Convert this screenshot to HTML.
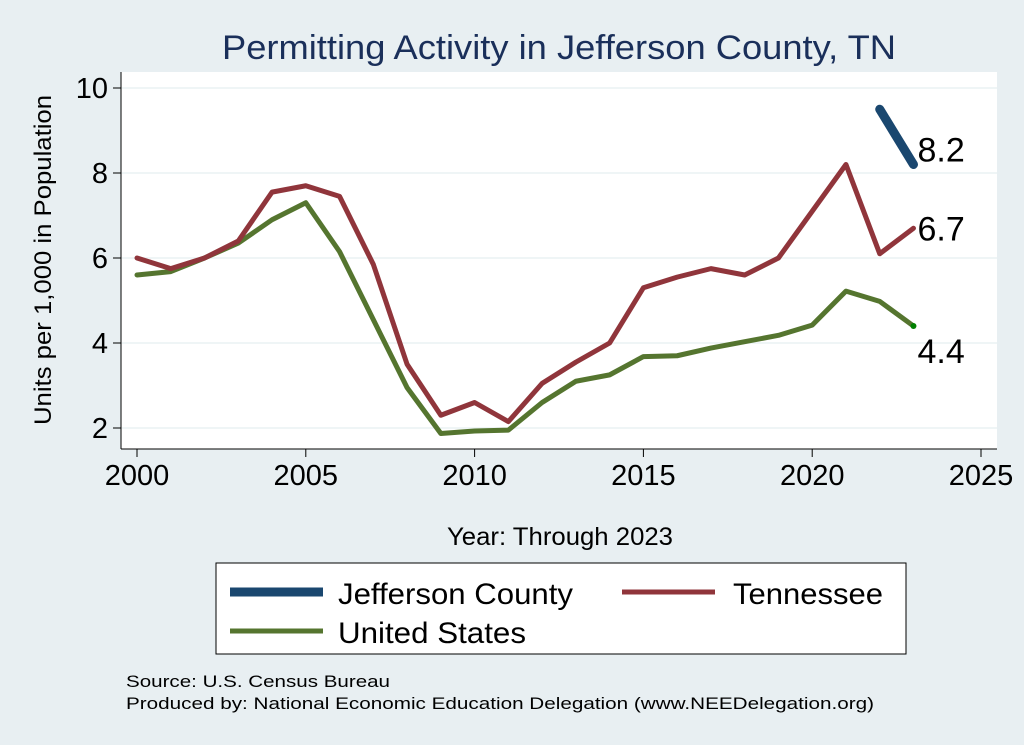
<!DOCTYPE html>
<html><head><meta charset="utf-8"><style>
body{margin:0;background:#e8eff2;}
svg{display:block;font-family:"Liberation Sans",sans-serif;}
</style></head><body>
<svg id="c" width="1024" height="745">
<rect x="0" y="0" width="1024" height="745" fill="#e8eff2"/>
<text x="222" y="59" font-size="34" fill="#1a2f5a" textLength="674" lengthAdjust="spacingAndGlyphs">Permitting Activity in Jefferson County, TN</text>
<rect x="121" y="72" width="876" height="377" fill="#fff"/>
<g id="grid"></g>
<g id="axes"></g>
<g id="series"></g>
<text transform="translate(51,260) rotate(-90)" font-size="24" text-anchor="middle" fill="#000" textLength="330" lengthAdjust="spacingAndGlyphs">Units per 1,000 in Population</text>
<text x="447" y="545" font-size="25" fill="#000" textLength="226" lengthAdjust="spacingAndGlyphs">Year: Through 2023</text>
<g>
<rect x="216" y="563" width="690" height="91" fill="#fff" stroke="#000" stroke-width="1"/>
<line x1="230" y1="592" x2="323" y2="592" stroke="#1a476f" stroke-width="9"/>
<text x="338" y="604" font-size="30" textLength="235" lengthAdjust="spacingAndGlyphs">Jefferson County</text>
<line x1="622" y1="592" x2="715" y2="592" stroke="#90353b" stroke-width="5"/>
<text x="733" y="604" font-size="30" textLength="150" lengthAdjust="spacingAndGlyphs">Tennessee</text>
<line x1="230" y1="631" x2="323" y2="631" stroke="#55752f" stroke-width="5"/>
<text x="338" y="643" font-size="30" textLength="188" lengthAdjust="spacingAndGlyphs">United States</text>
</g>
<text x="126" y="687" font-size="17" textLength="264" lengthAdjust="spacingAndGlyphs">Source: U.S. Census Bureau</text>
<text x="126" y="709" font-size="17" textLength="748" lengthAdjust="spacingAndGlyphs">Produced by: National Economic Education Delegation (www.NEEDelegation.org)</text>
</svg>
<script>
const years=[2000,2001,2002,2003,2004,2005,2006,2007,2008,2009,2010,2011,2012,2013,2014,2015,2016,2017,2018,2019,2020,2021,2022,2023];
const tennessee=[6.0,5.75,6.0,6.4,7.55,7.7,7.45,5.85,3.5,2.3,2.6,2.15,3.05,3.55,4.0,5.3,5.55,5.75,5.6,6.0,7.1,8.2,6.1,6.7];
const unitedStates=[5.6,5.68,6.0,6.35,6.9,7.3,6.15,4.55,2.95,1.87,1.93,1.95,2.6,3.1,3.25,3.68,3.7,3.88,4.03,4.18,4.42,5.22,4.98,4.4];
const jeffYears=[2022,2023];
const jefferson=[9.5,8.2];
const yTicks=[2,4,6,8,10];
const xTicks=[2000,2005,2010,2015,2020,2025];
const NS="http://www.w3.org/2000/svg";
const X=v=>137+(v-2000)*(981-137)/25;
const Y=v=>428-(v-2)*(428-88)/8;
function mk(t,a,p){const e=document.createElementNS(NS,t);for(const k in a)e.setAttribute(k,a[k]);p.appendChild(e);return e;}
const grid=document.getElementById('grid'),axes=document.getElementById('axes'),ser=document.getElementById('series');
yTicks.forEach(v=>{
 const g=mk('line',{x1:121,x2:997,y1:Y(v),y2:Y(v),stroke:'#eaf2f3','stroke-width':1.5},grid);
 
 
 mk('line',{x1:113,x2:121,y1:Y(v),y2:Y(v),stroke:'#000'},axes);
 const t=mk('text',{x:108,y:Y(v)+10,'font-size':29,'text-anchor':'end'},axes);t.textContent=v;
 
 
});
mk('line',{x1:121,x2:121,y1:72,y2:449,stroke:'#000'},axes);
mk('line',{x1:121,x2:997,y1:449,y2:449,stroke:'#000'},axes);
xTicks.forEach(v=>{
 mk('line',{x1:X(v),x2:X(v),y1:449,y2:457,stroke:'#000'},axes);
 const t=mk('text',{x:X(v),y:485,'font-size':29,'text-anchor':'middle'},axes);t.textContent=v;
 
 
});
function line(xs,ys,col,w,name){
 const p=mk('polyline',{points:xs.map((x,i)=>X(x)+','+Y(ys[i])).join(' '),fill:'none',stroke:col,'stroke-width':w,'stroke-linejoin':'round','stroke-linecap':'round'},ser);
 
 
}
line(years,unitedStates,'#55752f',5,'us-line');
line(years,tennessee,'#90353b',5,'tennessee-line');
line(jeffYears,jefferson,'#1a476f',9,'jefferson-line');
const dot=mk('circle',{cx:X(2023),cy:Y(unitedStates[23]),r:3,fill:'#008000'},ser);


function lab(v,dy,name){const t=mk('text',{x:X(2023)+4,y:Y(v)+dy,'font-size':34},ser);t.textContent=v.toFixed(1);
 
 }
lab(jefferson[1],-3,'jefferson-end-label');
lab(tennessee[23],12,'tennessee-end-label');
lab(unitedStates[23],37,'us-end-label');
</script>
</body></html>
